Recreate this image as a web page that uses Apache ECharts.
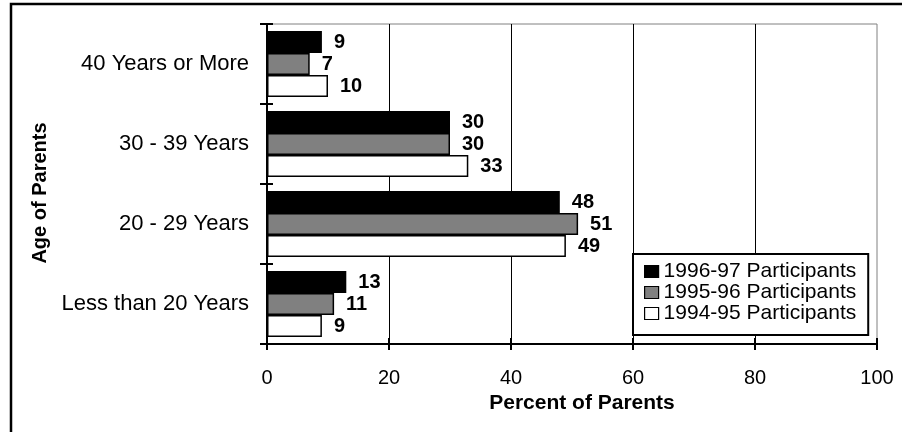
<!DOCTYPE html>
<html>
<head>
<meta charset="utf-8">
<script src="https://cdn.jsdelivr.net/npm/echarts@6/dist/echarts.min.js"></script>
<style>
  html, body { margin: 0; padding: 0; background: #fff; }
  #chart { width: 902px; height: 432px; }
</style>
</head>
<body>
<div id="chart"></div>
<script>
// Age groups, listed bottom to top along the category axis
const ageGroups = ['Less than 20 Years', '20 - 29 Years', '30 - 39 Years', '40 Years or More'];

// Percent of parents in each age group, per program year
const participants9697 = [13, 48, 30, 9];
const participants9596 = [11, 51, 30, 7];
const participants9495 = [9, 49, 33, 10];

const seriesNames = ['1996-97 Participants', '1995-96 Participants', '1994-95 Participants'];

const FONT = '"Liberation Sans", Arial, sans-serif';

const chart = echarts.init(document.getElementById('chart'), null, { renderer: 'canvas' });

function barSeries(name, values, fill) {
  return {
    name: name,
    type: 'bar',
    xAxisIndex: 0,
    yAxisIndex: 0,
    data: values,
    barGap: '0%',
    barCategoryGap: '17.5%',
    itemStyle: { color: fill, borderColor: '#000', borderWidth: 1.5 },
    label: {
      show: true,
      position: 'right',
      distance: 12,
      color: '#000',
      fontFamily: FONT,
      fontWeight: 'bold',
      fontSize: 20
    },
    emphasis: { disabled: true },
    animation: false
  };
}

chart.setOption({
  animation: false,
  backgroundColor: '#fff',
  textStyle: { fontFamily: FONT },
  graphic: [{
    // frame edge along the top and left of the figure
    type: 'polyline',
    silent: true,
    shape: { points: [[11, 450], [11, 4], [920, 4]] },
    style: { fill: 'none', stroke: '#000', lineWidth: 2.5 },
    z: -10
  }],
  grid: {
    left: 267, right: 25, top: 24, bottom: 88,
    show: true, borderColor: '#808080', borderWidth: 1, backgroundColor: 'transparent'
  },
  legend: {
    data: seriesNames,
    orient: 'vertical',
    left: 633,
    top: 254,
    width: 236,
    padding: [7, 12, 11, 11],
    itemGap: 0,
    itemWidth: 14,
    itemHeight: 12,
    backgroundColor: '#fff',
    borderColor: '#000',
    borderWidth: 2,
    borderRadius: 0,
    icon: 'rect',
    itemStyle: { borderColor: '#000', borderWidth: 1.2 },
    textStyle: { fontFamily: FONT, fontSize: 21, color: '#000', lineHeight: 20.5 },
    selectedMode: false
  },
  xAxis: [{
    type: 'value',
    min: 0, max: 100, interval: 20,
    name: 'Percent of Parents',
    nameLocation: 'middle',
    nameGap: 43,
    nameTextStyle: { fontFamily: FONT, fontWeight: 'bold', fontSize: 21, color: '#000', padding: [0, 0, 0, 20] },
    axisLine: { show: true, lineStyle: { color: '#000', width: 2 } },
    axisTick: { show: true, length: 6, lineStyle: { color: '#000', width: 2 } },
    axisLabel: { fontFamily: FONT, fontSize: 20, color: '#000', margin: 24 },
    splitLine: { show: true, showMinLine: false, showMaxLine: false, lineStyle: { color: '#000', width: 1 } }
  }, {
    type: 'value',
    min: 0, max: 100, interval: 20,
    position: 'bottom',
    axisLine: { show: false },
    axisTick: { show: true, inside: true, length: 6, lineStyle: { color: '#000', width: 2 } },
    axisLabel: { show: false },
    splitLine: { show: false }
  }],
  yAxis: [{
    type: 'category',
    data: ageGroups,
    name: 'Age of Parents',
    nameLocation: 'middle',
    nameGap: 205,
    nameTextStyle: { fontFamily: FONT, fontWeight: 'bold', fontSize: 20, color: '#000', padding: [0, 0, 0, -18] },
    axisLine: { show: true, lineStyle: { color: '#000', width: 2 } },
    axisTick: { show: true, length: 7, lineStyle: { color: '#000', width: 2 } },
    axisLabel: { fontFamily: FONT, fontSize: 22, color: '#000', margin: 18 },
    splitLine: { show: false }
  }, {
    type: 'category',
    data: ageGroups,
    position: 'left',
    axisLine: { show: false },
    axisTick: { show: true, inside: true, length: 6, lineStyle: { color: '#000', width: 2 } },
    axisLabel: { show: false },
    splitLine: { show: false }
  }],
  series: [
    barSeries(seriesNames[0], participants9697, '#000000'),
    barSeries(seriesNames[1], participants9596, '#808080'),
    barSeries(seriesNames[2], participants9495, '#ffffff')
  ]
});
</script>
</body>
</html>
